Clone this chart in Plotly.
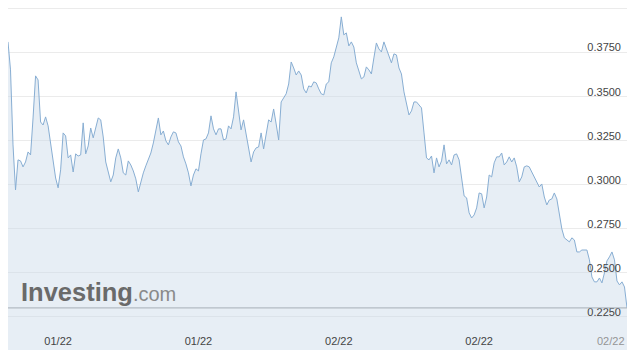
import pandas as pd
import plotly.graph_objects as go

# 3-hourly prices, starting 2022-01-21 12:00
start_time = "2022-01-21 12:00"
step_hours = 3
prices = [
    0.3811, 0.3652, 0.3226, 0.2970, 0.3141, 0.3135, 0.3101, 0.3129, 0.3186, 0.3169,
    0.3379, 0.3618, 0.3595, 0.3356, 0.3339, 0.3385, 0.3334, 0.3226, 0.3124, 0.3038,
    0.2982, 0.3084, 0.3294, 0.3277, 0.3152, 0.3169, 0.3072, 0.3175, 0.3163, 0.3169,
    0.3351, 0.3175, 0.3220, 0.3322, 0.3266, 0.3328, 0.3379, 0.3368, 0.3271, 0.3129,
    0.3072, 0.3016, 0.3055, 0.3152, 0.3203, 0.3152, 0.3067, 0.3055, 0.3135, 0.3112,
    0.3078, 0.3033, 0.2959, 0.3021, 0.3067, 0.3107, 0.3146, 0.3180, 0.3237, 0.3305,
    0.3379, 0.3283, 0.3305, 0.3249, 0.3226, 0.3271, 0.3300, 0.3294, 0.3243, 0.3220,
    0.3158, 0.3118, 0.3067, 0.2993, 0.3055, 0.3090, 0.3078, 0.3175, 0.3254, 0.3260,
    0.3294, 0.3391, 0.3317, 0.3283, 0.3317, 0.3317, 0.3254, 0.3260, 0.3334, 0.3317,
    0.3385, 0.3527, 0.3408, 0.3311, 0.3368, 0.3288, 0.3209, 0.3129, 0.3186, 0.3209,
    0.3214, 0.3294, 0.3203, 0.3300, 0.3368, 0.3356, 0.3430, 0.3345, 0.3254, 0.3470,
    0.3493, 0.3516, 0.3572, 0.3697, 0.3663, 0.3623, 0.3646, 0.3623, 0.3544, 0.3521,
    0.3561, 0.3555, 0.3584, 0.3578, 0.3544, 0.3516, 0.3510, 0.3572, 0.3584, 0.3692,
    0.3726, 0.3782, 0.3834, 0.3953, 0.3851, 0.3862, 0.3788, 0.3811, 0.3782, 0.3692,
    0.3640, 0.3601, 0.3612, 0.3669, 0.3652, 0.3629, 0.3720, 0.3805, 0.3771, 0.3754,
    0.3811, 0.3771, 0.3726, 0.3692, 0.3743, 0.3737, 0.3663, 0.3629, 0.3527, 0.3464,
    0.3396, 0.3419, 0.3470, 0.3470, 0.3453, 0.3436, 0.3294, 0.3152, 0.3141, 0.3163,
    0.3067, 0.3152, 0.3101, 0.3135, 0.3226, 0.3118, 0.3141, 0.3112, 0.3169, 0.3175,
    0.3141, 0.3021, 0.2936, 0.2925, 0.2840, 0.2811, 0.2828, 0.2868, 0.2953, 0.2948,
    0.2868, 0.2930, 0.3055, 0.3044, 0.3124, 0.3158, 0.3158, 0.3180, 0.3112, 0.3129,
    0.3158, 0.3129, 0.3152, 0.3101, 0.3016, 0.3044, 0.3101, 0.3107, 0.3101, 0.3072,
    0.3044, 0.3010, 0.2987, 0.3004, 0.2930, 0.2885, 0.2913, 0.2919, 0.2953, 0.2919,
    0.2840, 0.2749, 0.2698, 0.2686, 0.2675, 0.2698, 0.2686, 0.2618, 0.2618, 0.2629,
    0.2629, 0.2629, 0.2573, 0.2476, 0.2448, 0.2448, 0.2470, 0.2442, 0.2499, 0.2567,
    0.2590, 0.2618, 0.2573, 0.2453, 0.2431, 0.2448, 0.2419, 0.2300,
]
x_tick_dates = ["2022-01-24", "2022-01-31", "2022-02-07", "2022-02-14"]
x_tick_labels = ["01/22", "01/22", "02/22", "02/22"]
last_tick_label = "02/22"
y_tick_values = [0.2250, 0.2500, 0.2750, 0.3000, 0.3250, 0.3500, 0.3750, 0.4000]
y_tick_labels = ["0.2250", "0.2500", "0.2750", "0.3000", "0.3250", "0.3500", "0.3750", ""]
y_range = [0.2061, 0.4049]

times = pd.date_range(start=start_time, periods=len(prices), freq=f"{step_hours}h")
x_range = [times[0], times[-1]]
font_family = "Liberation Sans, Arial, sans-serif"
label_color = "#a0a0a0"

fig = go.Figure()
fig.add_trace(go.Scatter(
    x=times, y=prices, mode="lines",
    line=dict(color="#88aed3", width=1),
    fill="tozeroy", fillcolor="rgba(202,217,233,0.45)",
    hoverinfo="skip", showlegend=False,
))

fig.add_shape(type="line", xref="paper", x0=0, x1=1, yref="y",
              y0=prices[-1], y1=prices[-1],
              line=dict(color="#a6aeb6", width=1))

# end-of-axis date label, clamped inside the plot like the original
fig.add_annotation(
    x=times[-1], xref="x", xanchor="right", y=0.0, yref="paper", yanchor="bottom",
    yshift=1, text=last_tick_label, showarrow=False,
    font=dict(family=font_family, size=11, color="#959595"),
)

fig.add_annotation(
    xref="paper", yref="paper", x=0.017, y=0.166, xanchor="left", yanchor="middle",
    text="<b>Investing</b><span style='font-size:20px;color:#8a8a8a'>.com</span>",
    showarrow=False, font=dict(family=font_family, size=25.5, color="#6a6a6a"),
)

fig.update_layout(
    width=640, height=359,
    margin=dict(l=8, r=13, t=0, b=9),
    paper_bgcolor="white", plot_bgcolor="white",
    font=dict(family=font_family, size=11, color=label_color),
    xaxis=dict(
        tickvals=pd.to_datetime(x_tick_dates), ticktext=x_tick_labels,
        ticklabelposition="inside", showgrid=False, zeroline=False, showline=False,
        ticks="", range=x_range, fixedrange=True,
    ),
    yaxis=dict(
        side="right", tickvals=y_tick_values, ticktext=y_tick_labels,
        ticklabelposition="inside", ticklabelshift=-5, ticklabelstandoff=3,
        showgrid=True, gridcolor="#ebebeb", gridwidth=1, zeroline=False,
        showline=False, ticks="", range=y_range, fixedrange=True,
    ),
)

fig.write_html("out.html")
